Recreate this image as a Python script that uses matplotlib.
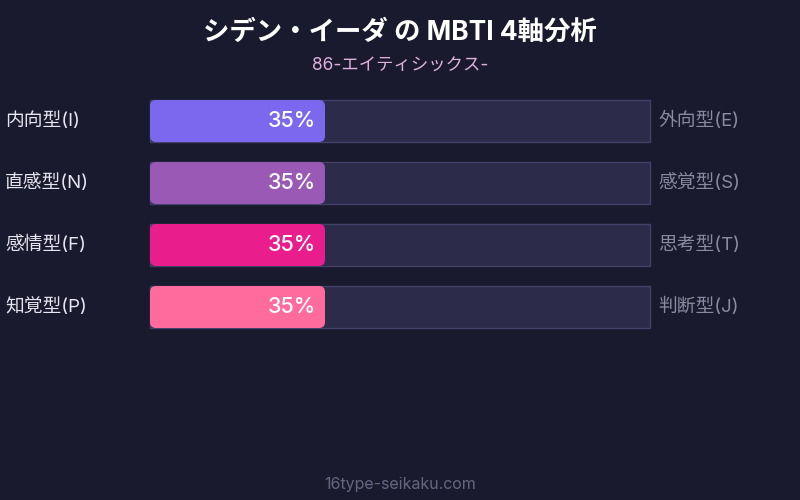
import matplotlib
matplotlib.use("Agg")
import matplotlib.pyplot as plt
from matplotlib.patches import FancyBboxPatch, Rectangle

plt.rcParams['font.family'] = ['Inter', 'Noto Sans CJK JP', 'DejaVu Sans']

title = "シデン・イーダ の MBTI 4軸分析"
subtitle = "86-エイティシックス-"
footer = "16type-seikaku.com"
left_labels = ["内向型(I)", "直感型(N)", "感情型(F)", "知覚型(P)"]
right_labels = ["外向型(E)", "感覚型(S)", "思考型(T)", "判断型(J)"]
values = [35, 35, 35, 35]
colors = ["#7b68ee", "#9b59b6", "#e91e8c", "#ff6b9d"]

bg = "#1a1a2e"
fig = plt.figure(figsize=(8, 5), dpi=100, facecolor=bg)
ax = fig.add_axes([0, 0, 1, 1])
ax.set_facecolor(bg)
ax.set_xlim(0, 800)
ax.set_ylim(500, 0)
ax.axis("off")

x0, track_w, bar_h = 150, 500, 42
y_first, gap = 121, 62

for i, (lt, rt, v, c) in enumerate(zip(left_labels, right_labels, values, colors)):
    yc = y_first + i * gap
    ax.add_patch(Rectangle((x0, yc - bar_h / 2), track_w, bar_h,
                           facecolor="#2d2b4a", edgecolor="#43416a", linewidth=1))
    w = v / 100 * track_w
    ax.add_patch(FancyBboxPatch((x0 + 6, yc - bar_h / 2 + 6), w - 12, bar_h - 12,
                                boxstyle="round,pad=6", facecolor=c, edgecolor="none"))
    ax.text(x0 + w - 9, yc, f"{v}%", color="white", fontsize=15.5,
            fontweight="medium", ha="right", va="center")
    ax.text(5, yc, lt, color="#e6e6f0", fontsize=13.5, ha="left", va="center")
    ax.text(658, yc, rt, color="#8a8aa0", fontsize=13.5, ha="left", va="center")

ax.text(400, 33, title, color="white", fontsize=19, fontweight="bold",
        ha="center", va="center")
ax.text(400, 66, subtitle, color="#e0b0e0", fontsize=12.5, ha="center", va="center")
ax.text(400, 484, footer, color="#666680", fontsize=11.5, ha="center", va="center")

fig.savefig("out.png", dpi=100, facecolor=bg)
